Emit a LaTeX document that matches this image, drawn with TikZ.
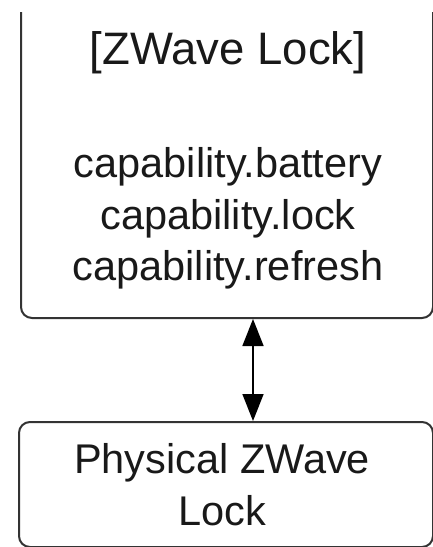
\documentclass[tikz,border=0pt]{standalone}
\usepackage{fontspec}
\setmainfont{Liberation Sans}
\usetikzlibrary{arrows.meta}
\definecolor{edge}{HTML}{333333}
\tikzset{
  box/.style={draw=edge, line width=2pt, rounded corners=11pt, inner sep=0pt, anchor=north west},
  label/.style={anchor=base, inner sep=0pt, font=\fontsize{41.5}{50}\selectfont, text=black!90},
  heading/.style={label, font=\fontsize{45.5}{52}\selectfont},
  link/.style={line width=1.6pt, {Triangle[width=21pt,length=27pt]}-{Triangle[width=21pt,length=27pt]}}
}
\begin{document}
\begin{tikzpicture}[x=1pt, y=-1pt]
  \useasboundingbox (0,0) rectangle (433,547);
  \fill[white] (0,0) rectangle (433,547);
  \begin{scope}
    \clip (0,12) rectangle (433,547);
    % service box, its top edge runs out of the frame
    \node[box, minimum width=412pt, minimum height=347pt] (device) at (20,-30) {};
  \end{scope}
  \node[heading] (title) at (228,64) {[ZWave Lock]};
  \node[label] (cap1) at (228,177) {capability.battery};
  \node[label] (cap2) at (228,229) {capability.lock};
  \node[label] (cap3) at (228,280) {capability.refresh};
  \begin{scope}
    \clip (0,0) rectangle (433,547);
    % hardware box, its lower edge sits on the frame
    \node[box, minimum width=414pt, minimum height=125pt] (phys) at (18,421) {};
  \end{scope}
  \node[label] (phys1) at (222,473) {Physical ZWave};
  \node[label] (phys2) at (222,525) {Lock};
  \coordinate (lx) at (253,0);
  \draw[link] (device.south -| lx) -- (phys.north -| lx);
\end{tikzpicture}
\end{document}
